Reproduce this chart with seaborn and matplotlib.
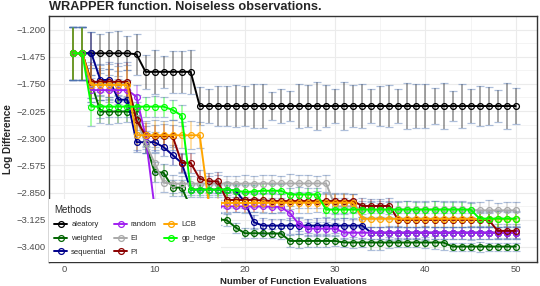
import pandas as pd
import matplotlib
matplotlib.use("Agg")
import matplotlib.pyplot as plt
import seaborn as sns
from matplotlib.lines import Line2D

# Data
evals = list(range(1, 51))
methods = ["aleatory", "weighted", "sequential", "random", "EI", "PI", "LCB", "gp_hedge"]

aleatory = [-1.44, -1.44, -1.44, -1.44, -1.44, -1.44, -1.44, -1.45, -1.628, -1.628,
            -1.628, -1.628, -1.628, -1.628, -1.974, -1.974, -1.974, -1.974, -1.974, -1.974,
            -1.974, -1.974, -1.974, -1.974, -1.974, -1.974, -1.974, -1.974, -1.974, -1.974,
            -1.974, -1.974, -1.974, -1.974, -1.974, -1.974, -1.974, -1.974, -1.974, -1.974,
            -1.974, -1.974, -1.974, -1.974, -1.974, -1.974, -1.974, -1.974, -1.974, -1.974]
weighted = [-1.44, -1.44, -1.74, -2.03, -2.03, -2.03, -2.03, -2.05, -2.35, -2.64,
            -2.65, -2.80, -2.80, -3.00, -3.12, -3.12, -3.12, -3.13, -3.205, -3.262,
            -3.262, -3.262, -3.265, -3.265, -3.34, -3.34, -3.34, -3.34, -3.34, -3.34,
            -3.356, -3.356, -3.356, -3.356, -3.356, -3.356, -3.356, -3.356, -3.356, -3.356,
            -3.356, -3.356, -3.397, -3.397, -3.397, -3.397, -3.397, -3.397, -3.397, -3.397]
sequential = [-1.44, -1.44, -1.44, -1.71, -1.71, -1.91, -1.91, -2.34, -2.34, -2.34,
              -2.39, -2.47, -2.55, -2.82, -2.82, -2.82, -2.82, -2.82, -2.83, -2.95,
              -3.15, -3.185, -3.185, -3.185, -3.185, -3.185, -3.185, -3.185, -3.185, -3.185,
              -3.185, -3.185, -3.185, -3.256, -3.256, -3.256, -3.256, -3.256, -3.256, -3.256,
              -3.256, -3.256, -3.256, -3.256, -3.256, -3.256, -3.256, -3.256, -3.256, -3.256]
random_ = [-1.44, -1.44, -1.813, -1.813, -1.813, -1.813, -1.813, -1.88, -2.28, -3.00,
           -2.99, -2.99, -2.99, -2.99, -2.99, -2.99, -2.99, -2.99, -2.99, -2.99,
           -2.99, -2.99, -2.995, -2.995, -3.06, -3.17, -3.215, -3.215, -3.215, -3.215,
           -3.256, -3.256, -3.256, -3.256, -3.256, -3.256, -3.256, -3.256, -3.256, -3.256,
           -3.256, -3.256, -3.256, -3.256, -3.256, -3.256, -3.256, -3.256, -3.256, -3.256]
ei = [-1.44, -1.44, -1.74, -1.74, -1.74, -1.74, -1.74, -2.10, -2.35, -2.55,
      -2.75, -2.76, -2.76, -2.76, -2.76, -2.76, -2.76, -2.76, -2.76, -2.76,
      -2.76, -2.76, -2.758, -2.758, -2.758, -2.758, -2.758, -2.758, -2.758, -2.99,
      -2.99, -2.99, -3.02, -3.02, -3.02, -3.02, -3.02, -3.02, -3.02, -3.02,
      -3.02, -3.02, -3.02, -3.02, -3.025, -3.03, -3.03, -3.03, -3.03, -3.03]
pi = [-1.44, -1.44, -1.729, -1.729, -1.729, -1.729, -1.729, -2.12, -2.27, -2.28,
      -2.28, -2.28, -2.55, -2.55, -2.71, -2.736, -2.736, -2.925, -2.925, -2.925,
      -2.925, -2.93, -2.936, -2.936, -2.936, -2.936, -2.936, -2.936, -2.936, -2.936,
      -2.936, -2.936, -2.986, -2.986, -2.986, -2.986, -3.127, -3.127, -3.127, -3.127,
      -3.127, -3.127, -3.127, -3.127, -3.127, -3.127, -3.127, -3.238, -3.238, -3.238]
lcb = [-1.44, -1.44, -1.76, -1.76, -1.76, -1.76, -1.76, -2.27, -2.27, -2.27,
       -2.27, -2.27, -2.27, -2.27, -2.27, -2.955, -2.955, -2.955, -2.955, -2.955,
       -2.955, -2.955, -2.953, -2.953, -2.953, -2.953, -2.953, -2.953, -2.953, -2.953,
       -2.953, -2.953, -3.116, -3.116, -3.116, -3.116, -3.116, -3.116, -3.116, -3.116,
       -3.116, -3.116, -3.116, -3.116, -3.116, -3.12, -3.12, -3.12, -3.12, -3.12]
gp_hedge = [-1.44, -1.44, -1.98, -1.98, -1.98, -1.98, -1.98, -1.98, -1.98, -1.98,
            -1.98, -2.014, -2.07, -2.82, -2.82, -2.82, -2.82, -2.82, -2.83, -2.845,
            -2.84, -2.832, -2.832, -2.832, -2.87, -2.87, -2.87, -2.87, -3.023, -3.023,
            -3.023, -3.023, -3.023, -3.023, -3.023, -3.023, -3.023, -3.023, -3.023, -3.023,
            -3.023, -3.023, -3.023, -3.023, -3.023, -3.114, -3.114, -3.114, -3.114, -3.114]

# error bar half widths
err_aleatory = [0.27, 0.27, 0.22, 0.20, 0.22, 0.23, 0.17, 0.21, 0.17, 0.22,
                0.16, 0.21, 0.21, 0.22, 0.19, 0.17, 0.20, 0.20, 0.21, 0.20,
                0.22, 0.22, 0.145, 0.168, 0.155, 0.222, 0.212, 0.245, 0.212, 0.168,
                0.245, 0.212, 0.219, 0.168, 0.202, 0.212, 0.168, 0.229, 0.219, 0.219,
                0.178, 0.235, 0.155, 0.222, 0.168, 0.202, 0.189, 0.161, 0.235, 0.185]
err_weighted = [0.27, 0.27, 0.15, 0.12, 0.13, 0.12, 0.11, 0.12, 0.10, 0.10,
                0.09, 0.08, 0.08, 0.07, 0.07, 0.06, 0.06, 0.06, 0.05, 0.05,
                0.05, 0.05, 0.05, 0.06, 0.06, 0.07, 0.06, 0.06, 0.06, 0.05,
                0.05, 0.06, 0.05, 0.08, 0.08, 0.06, 0.05, 0.05, 0.05, 0.06,
                0.07, 0.08, 0.04, 0.04, 0.04, 0.05, 0.04, 0.04, 0.04, 0.04]
err_sequential = [0.27, 0.27, 0.22, 0.12, 0.11, 0.10, 0.10, 0.10, 0.11, 0.10,
                  0.09, 0.10, 0.09, 0.05, 0.05, 0.05, 0.05, 0.05, 0.06, 0.06,
                  0.07, 0.08, 0.07, 0.07, 0.08, 0.08, 0.07, 0.08, 0.08, 0.07,
                  0.08, 0.07, 0.07, 0.06, 0.06, 0.07, 0.07, 0.06, 0.06, 0.07,
                  0.06, 0.06, 0.06, 0.06, 0.07, 0.06, 0.06, 0.06, 0.06, 0.06]
err_random = [0.27, 0.27, 0.12, 0.10, 0.10, 0.11, 0.10, 0.12, 0.10, 0.08,
              0.06, 0.06, 0.06, 0.06, 0.06, 0.06, 0.06, 0.06, 0.06, 0.06,
              0.06, 0.06, 0.06, 0.06, 0.07, 0.07, 0.07, 0.07, 0.07, 0.06,
              0.06, 0.06, 0.06, 0.06, 0.06, 0.06, 0.06, 0.06, 0.06, 0.06,
              0.06, 0.06, 0.06, 0.06, 0.06, 0.06, 0.06, 0.06, 0.06, 0.06]
err_ei = [0.27, 0.27, 0.15, 0.13, 0.14, 0.12, 0.13, 0.12, 0.10, 0.10,
          0.09, 0.09, 0.08, 0.08, 0.07, 0.08, 0.09, 0.08, 0.08, 0.09,
          0.08, 0.09, 0.09, 0.08, 0.10, 0.09, 0.09, 0.08, 0.09, 0.08,
          0.08, 0.07, 0.08, 0.08, 0.08, 0.08, 0.08, 0.08, 0.08, 0.08,
          0.08, 0.08, 0.08, 0.08, 0.08, 0.08, 0.10, 0.07, 0.08, 0.08]
err_pi = [0.27, 0.27, 0.20, 0.18, 0.20, 0.19, 0.20, 0.14, 0.12, 0.11,
          0.12, 0.11, 0.10, 0.10, 0.09, 0.08, 0.09, 0.08, 0.08, 0.08,
          0.07, 0.07, 0.07, 0.07, 0.08, 0.07, 0.07, 0.07, 0.07, 0.07,
          0.07, 0.07, 0.08, 0.07, 0.07, 0.08, 0.07, 0.07, 0.07, 0.07,
          0.07, 0.07, 0.07, 0.07, 0.07, 0.07, 0.07, 0.07, 0.07, 0.07]
err_lcb = [0.27, 0.27, 0.20, 0.20, 0.21, 0.19, 0.20, 0.15, 0.14, 0.15,
           0.14, 0.15, 0.13, 0.14, 0.13, 0.10, 0.10, 0.10, 0.09, 0.10,
           0.09, 0.10, 0.10, 0.09, 0.10, 0.10, 0.10, 0.09, 0.10, 0.10,
           0.10, 0.09, 0.08, 0.08, 0.08, 0.08, 0.08, 0.08, 0.08, 0.08,
           0.08, 0.08, 0.08, 0.08, 0.08, 0.08, 0.08, 0.08, 0.08, 0.08]
err_gp_hedge = [0.27, 0.27, 0.20, 0.12, 0.10, 0.11, 0.10, 0.12, 0.10, 0.11,
                0.10, 0.10, 0.11, 0.07, 0.07, 0.08, 0.07, 0.08, 0.07, 0.07,
                0.07, 0.08, 0.07, 0.07, 0.07, 0.08, 0.07, 0.07, 0.07, 0.08,
                0.08, 0.08, 0.07, 0.08, 0.07, 0.08, 0.08, 0.09, 0.08, 0.08,
                0.09, 0.08, 0.08, 0.08, 0.07, 0.07, 0.07, 0.08, 0.07, 0.07]

values = [aleatory, weighted, sequential, random_, ei, pi, lcb, gp_hedge]
errors = [err_aleatory, err_weighted, err_sequential, err_random, err_ei, err_pi,
          err_lcb, err_gp_hedge]
colors = ["#000000", "#006400", "#00008B", "#A020F0", "#A9A9A9", "#8B0000", "#FFA500", "#00FF00"]

y_ticks = [-1.2, -1.475, -1.75, -2.025, -2.3, -2.575, -2.85, -3.125, -3.4]
x_ticks = [0, 10, 20, 30, 40, 50]

rows = []
for m, v, e in zip(methods, values, errors):
    for x, y, s in zip(evals, v, e):
        rows.append({"evals": x, "value": y, "err": s, "method": m})
df = pd.DataFrame(rows)
palette = dict(zip(methods, colors))

sns.set_theme(style="whitegrid")
plt.rcParams['font.family'] = ['Liberation Sans', 'DejaVu Sans']

fig = plt.figure(figsize=(5.4, 2.86), dpi=100)
ax = fig.add_axes([49 / 540, 1 - 261.5 / 286, (537 - 49) / 540, (261.5 - 16) / 286])

# error bars underneath the lines
for m in methods:
    d = df[df["method"] == m]
    ax.errorbar(d["evals"], d["value"], yerr=d["err"], fmt="none", ecolor=palette[m],
                alpha=0.45, elinewidth=1.1, capsize=2.8, capthick=1.1, zorder=1.5)

sns.lineplot(data=df, x="evals", y="value", hue="method", hue_order=methods,
             palette=palette, marker="o", markersize=4.2, linewidth=1.4,
             legend=False, ax=ax, zorder=2.5)
for line in ax.lines:
    line.set_markeredgecolor(line.get_color())
    line.set_markerfacecolor("none")
    line.set_markeredgewidth(0.9)

ax.set_xlim(-1.69, 52.35)
ax.set_ylim(-3.548, -1.066)
ax.set_xticks(x_ticks)
ax.set_xticks([5, 15, 25, 35, 45], minor=True)
ax.set_yticks(y_ticks)
ax.set_yticklabels([f"{t:.3f}".replace("-", "\u2212") for t in y_ticks])
ax.set_yticks([(a + b) / 2 for a, b in zip(y_ticks[:-1], y_ticks[1:])] + [-3.5375, -1.0625], minor=True)

ax.grid(which="major", color="#EBEBEB", linewidth=0.8)
ax.grid(which="minor", color="#F2F2F2", linewidth=0.6)
ax.set_axisbelow(True)
for sp in ax.spines.values():
    sp.set_color("#333333")
    sp.set_linewidth(1.0)
ax.tick_params(axis="both", which="major", length=1.8, width=0.8, color="#333333",
               labelsize=6.8, labelcolor="#4D4D4D", pad=0.8)
ax.tick_params(axis="both", which="minor", length=0)

ax.set_xlabel("")
fig.text(293 / 540, 1 - 284.2 / 286, "Number of Function Evaluations",
         fontsize=6.8, fontweight="bold", ha="center", va="baseline")
ax.set_ylabel("Log Difference", fontsize=7.2, fontweight="bold", labelpad=2)

fig.text(49 / 540, 1 - 10 / 286, "WRAPPER function. Noiseless observations.",
         fontsize=9.2, fontweight="bold", ha="left", va="baseline")

handles = [Line2D([0], [0], color=c, marker="o", markersize=4.2, markerfacecolor="none",
                  markeredgecolor=c, markeredgewidth=0.9, linewidth=1.4) for c in colors]
leg = ax.legend(handles, methods, title="Methods", ncol=3, loc="lower left",
                bbox_to_anchor=(0, 0), borderaxespad=0, fontsize=5.5,
                title_fontsize=7, frameon=True, facecolor="white", edgecolor="none",
                framealpha=1, fancybox=False, handlelength=1.7, handletextpad=0.5,
                columnspacing=1.0, labelspacing=0.85, borderpad=0.7, alignment="left")
leg.set_zorder(5)

fig.savefig("out.png", dpi=100)
